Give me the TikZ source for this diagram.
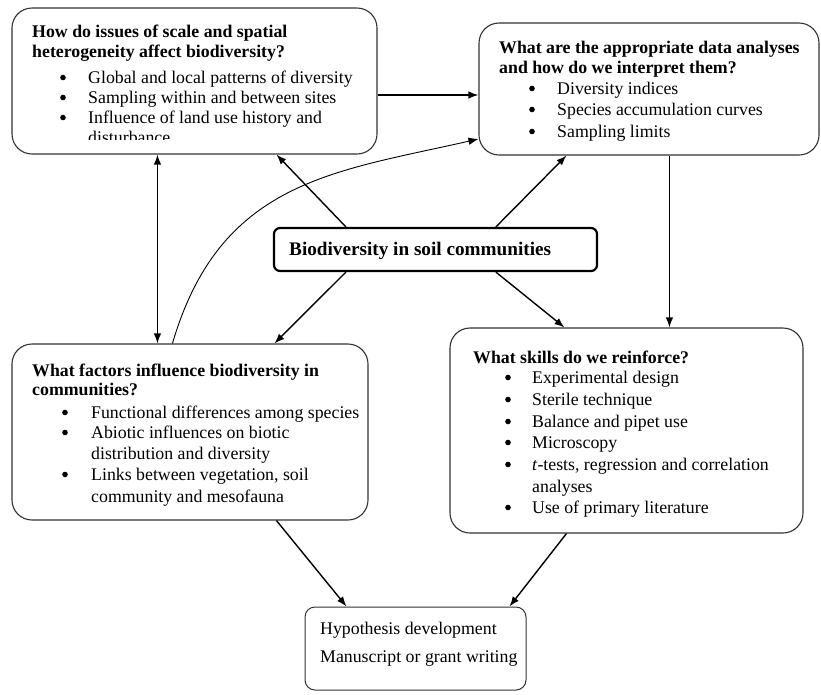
\documentclass[tikz,border=0pt]{standalone}
\usepackage{fontspec}
\setmainfont{Liberation Serif}
\usetikzlibrary{arrows.meta}
\newcommand\mybul[5]{%
  \node[bdot] (#1b) at (#2+3,#4-5.5) {};
  \node[txt] (#1) at (#3,#4) {#5};}
\begin{document}
\begin{tikzpicture}[x=1pt,y=-1pt,
  box/.style={draw=black!80, line width=1.1pt, rounded corners=20pt, inner sep=0pt},
  smallbox/.style={draw=black!80, line width=1pt, rounded corners=10pt, inner sep=0pt},
  centerbox/.style={draw=black, line width=2.2pt, rounded corners=6pt, inner sep=0pt},
  txt/.style={anchor=base west, inner sep=0pt, font=\fontsize{17.8}{21}\selectfont},
  ttl/.style={txt, font=\fontsize{17.8}{21}\selectfont\bfseries},
  bdot/.style={circle, fill=black, draw=none, inner sep=0pt, minimum size=5.6pt},
  arr/.style={line width=1.4pt, -{Latex[length=10pt,width=7.5pt]}},
  darr/.style={line width=1.4pt, {Latex[length=10pt,width=7.5pt]}-{Latex[length=10pt,width=7.5pt]}},
  thin/.style={line width=0.9pt, -{Latex[length=10pt,width=7.5pt]}}]
\fill[white] (0,0) rectangle (821,694);
\useasboundingbox (0,0) rectangle (821,694);

% boxes
\node[box, minimum width=365pt, minimum height=146pt] (b1) at (194.5,81) {};
\node[box, minimum width=340pt, minimum height=132pt] (b2) at (649,89) {};
\node[box, minimum width=356pt, minimum height=176pt] (b3) at (190,432) {};
\node[box, minimum width=353pt, minimum height=205pt] (b4) at (626.5,430.5) {};
\node[smallbox, minimum width=221pt, minimum height=83pt] (b5) at (415.5,648.5) {};
\node[centerbox, minimum width=323pt, minimum height=43pt] (c) at (435.5,249.5) {};

% center text
\node[anchor=base west, inner sep=0pt, font=\fontsize{19.2}{22}\selectfont\bfseries] (ct) at (289,255) {Biodiversity in soil communities};

% box 1
\node[ttl] (t1a) at (32,37.5) {How do issues of scale and spatial};
\node[ttl] (t1b) at (32,57.5) {heterogeneity affect biodiversity?};
\mybul{i11}{60}{88}{83}{Global and local patterns of diversity}
\mybul{i12}{60}{88}{103}{Sampling within and between sites}
\mybul{i13}{60}{88}{123}{Influence of land use history and}
\begin{scope}
\clip (0,0) rectangle (821,139.5);
\node[txt] (i14) at (88,143) {disturbance};
\end{scope}

% box 2
\node[ttl] (t2a) at (499,53) {What are the appropriate data analyses};
\node[ttl] (t2b) at (499,73) {and how do we interpret them?};
\mybul{i21}{529}{557}{94}{Diversity indices}
\mybul{i22}{529}{557}{115}{Species accumulation curves}
\mybul{i23}{529}{557}{137}{Sampling limits}

% box 3
\node[ttl] (t3a) at (32,376) {What factors influence biodiversity in};
\node[ttl] (t3b) at (32,395) {communities?};
\mybul{i31}{62}{91}{418}{Functional differences among species}
\mybul{i32}{62}{91}{438}{Abiotic influences on biotic}
\node[txt] (i32c) at (91,459) {distribution and diversity};
\mybul{i33}{62}{91}{480}{Links between vegetation, soil}
\node[txt] (i33c) at (91,502) {community and mesofauna};

% box 4
\node[ttl] (t4a) at (473,363) {What skills do we reinforce?};
\mybul{i41}{505}{532}{383}{Experimental design}
\mybul{i42}{505}{532}{405}{Sterile technique}
\mybul{i43}{505}{532}{427}{Balance and pipet use}
\mybul{i44}{505}{532}{448}{Microscopy}
\mybul{i45}{505}{532}{470}{\textit{t}-tests, regression and correlation}
\node[txt] (i45c) at (532,492) {analyses};
\mybul{i46}{505}{532}{513}{Use of primary literature}

% box 5
\node[txt] (t5a) at (320,634) {Hypothesis development};
\node[txt] (t5b) at (320,662) {Manuscript or grant writing};

% connectors
\draw[arr] ([yshift=-14pt]b1.east) -- ([yshift=-6pt]b2.west);
\draw[darr] ([xshift=146pt]b1.south west) -- ([xshift=146pt]b3.north west);
\draw[arr] ([xshift=73pt]c.north west) -- ([xshift=265pt]b1.south west);
\draw[arr] ([xshift=223pt]c.north west) -- ([xshift=88pt]b2.south west);
\draw[arr] ([xshift=73pt]c.south west) -- ([xshift=263pt]b3.north west);
\draw[arr] ([xshift=223pt]c.south west) -- ([xshift=115pt]b4.north west);
\draw[arr] ([xshift=191pt]b2.south west) -- ([xshift=220pt]b4.north west);
\draw[arr] ([xshift=265pt]b3.south west) -- ([xshift=42pt]b5.north west);
\draw[arr] ([xshift=117pt]b4.south west) -- ([xshift=205pt]b5.north west);
\draw[thin] ([xshift=161pt]b3.north west) .. controls (220,181) and (333,172) .. ([yshift=-50pt]b2.west);
\end{tikzpicture}
\end{document}
